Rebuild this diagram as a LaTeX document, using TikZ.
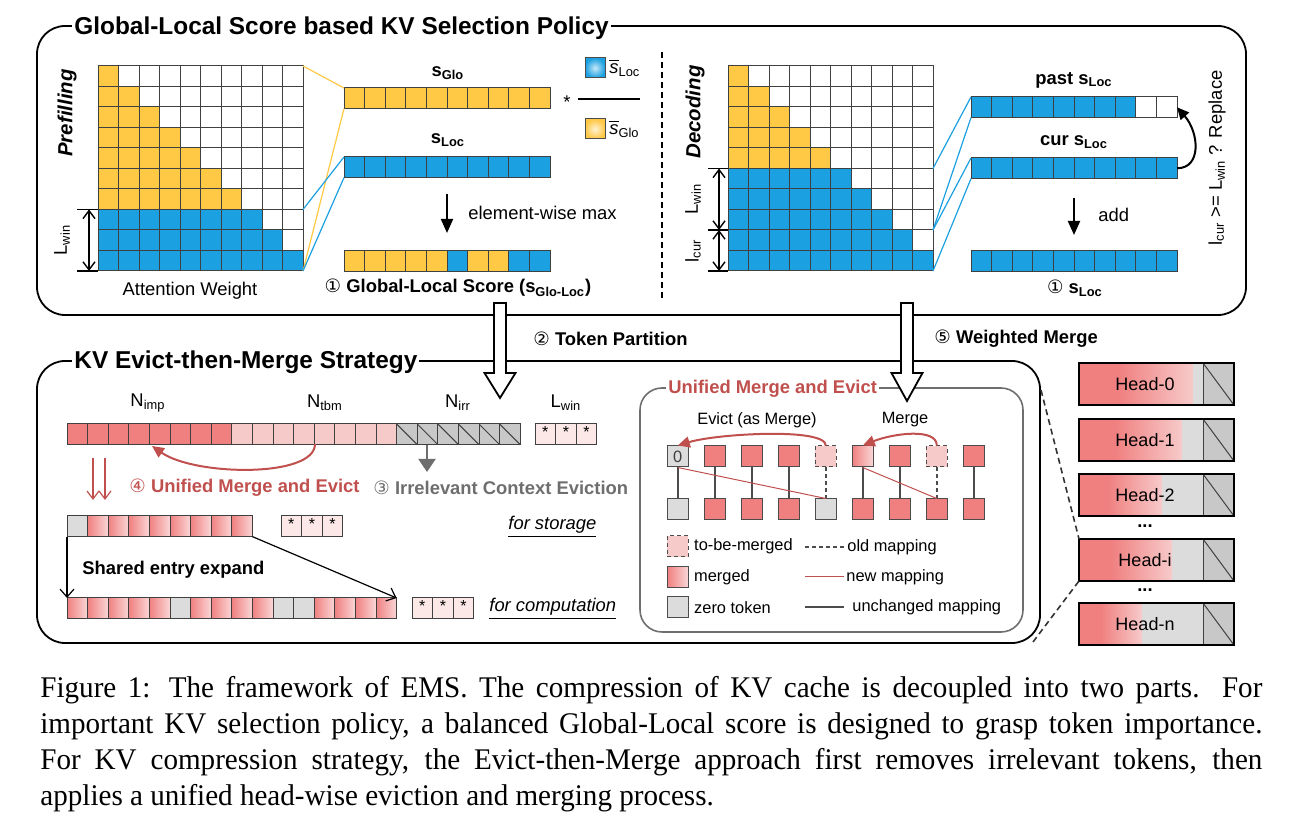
\documentclass[tikz,border=0pt]{standalone}
\usepackage{fontspec}
\setmainfont{Liberation Sans}
\newfontfamily\capfont[FakeStretch=0.97]{Liberation Serif}
\newfontfamily\symfont{DejaVu Sans}
\usepackage{tikz}
\usetikzlibrary{arrows.meta}
\usetikzlibrary{positioning}

\definecolor{yelC}{RGB}{255,200,69}
\definecolor{bluC}{RGB}{27,160,225}
\definecolor{impC}{RGB}{240,128,128}
\definecolor{tbmC}{RGB}{247,202,202}
\definecolor{irrC}{RGB}{200,200,200}
\definecolor{zeroC}{RGB}{220,220,220}
\definecolor{winC}{RGB}{253,232,232}
\definecolor{mrgC}{RGB}{250,214,214}
\definecolor{redT}{RGB}{192,80,77}
\definecolor{grayT}{RGB}{110,110,110}

\newcommand{\cnum}[1]{{\symfont\mdseries #1}}

\tikzset{
  cell/.style={draw=black!75, line width=0.5pt},
  bar/.style={draw=none, inner sep=0pt, outer sep=0pt, anchor=north west},
  mrg/.style={left color=impC, right color=mrgC},
  hatch/.style={fill=irrC, path picture={\draw[black!75, line width=0.5pt] (path picture bounding box.north west) -- (path picture bounding box.south east);}},
  frame/.style={draw=black, line width=0.9pt, rounded corners=14pt},
  inframe/.style={draw=grayT, line width=0.8pt, rounded corners=11pt},
  ttl/.style={font=\fontsize{12.2}{14}\selectfont\bfseries, fill=white, inner xsep=1pt, inner ysep=0pt, anchor=west},
  lbl/.style={font=\fontsize{9.2}{11}\selectfont, inner sep=1pt},
  blbl/.style={font=\fontsize{9.2}{11}\selectfont\bfseries, inner sep=1pt},
  slbl/.style={font=\fontsize{8.2}{10}\selectfont, inner sep=1pt},
  star/.style={font=\fontsize{8}{9}\selectfont, inner sep=0pt},
  yline/.style={yelC, line width=0.6pt},
  bline/.style={bluC, line width=0.6pt},
  tick/.style={line width=0.7pt},
  dimarr/.style={line width=0.7pt, {Straight Barb[length=4pt,width=6pt]}-{Straight Barb[length=4pt,width=6pt]}},
  downarr/.style={line width=1pt, -{Triangle[length=7pt,width=6pt]}},
  hollow/.style={draw, fill=white, line width=0.9pt},
  redarr/.style={redT, line width=1pt, -{Triangle[length=6pt,width=5.5pt]}},
  redthin/.style={redT, line width=0.6pt, -{Straight Barb[length=4pt,width=6pt]}},
  grayarr/.style={grayT, line width=1pt, -{Triangle[length=6.5pt,width=8.5pt]}},
  thinarr/.style={line width=0.6pt, -{Straight Barb[length=4pt,width=7pt]}},
  sq/.style={draw=black!70, line width=0.5pt, minimum size=10.5pt, inner sep=0pt},
  zsq/.style={fill=zeroC},
  rsq/.style={fill=impC},
  psq/.style={fill=tbmC, dash pattern=on 2pt off 1.5pt},
  msq/.style={left color=impC, right color=mrgC},
  keep/.style={black!70, line width=0.8pt},
  old/.style={black!70, line width=0.8pt, dash pattern=on 2pt off 1.5pt},
  new/.style={redT, line width=0.5pt},
  hdash/.style={black!80, line width=0.8pt, dash pattern=on 3pt off 2pt}
}

\begin{document}
\begin{tikzpicture}[x=0.5pt, y=-0.5pt]
\useasboundingbox (0,0) rectangle (1292,833);

% frames
\draw[frame] (37,26) rectangle (1246,315);
\draw[frame] (37,361) rectangle (1040,643);

% ---------- prefilling ----------
\node (pre) [bar, minimum width=102.5pt, minimum height=102.5pt] at (98,66) {};
\foreach \ii in {0,...,9}
  \foreach \jj in {0,...,9} {
    \ifnum\jj>\ii \def\cc{white}\else\ifnum\ii>6 \def\cc{bluC}\else\def\cc{yelC}\fi\fi
    \draw[cell, fill=\cc] (98+\jj*20.5, 66+\ii*20.5) rectangle ++(20.5,20.5);
  }
\node (prelbl) [rotate=90, font=\fontsize{10.2}{12}\selectfont\bfseries\itshape] at (67,113) {Prefilling};
\node (attlbl) [lbl] at (190,291) {Attention Weight};
\coordinate (prewin) at (303,209.5);
\coordinate (pw1) at (89,209.5);
\coordinate (pw2) at (89,271);
\draw[tick] (77,209.5) -- (98,209.5);
\draw[tick] (77,271) -- (98,271);
\draw[dimarr] (pw1) -- (pw2);
\node (pwlbl) [lbl, rotate=90] at (62,240) {L\textsubscript{win}};

% score bars
\node (glo) [bar, minimum width=103pt, minimum height=10.3pt] at (344,88) {};
\foreach \jj in {0,...,9} \draw[cell, fill=yelC] (344+\jj*20.6,88) rectangle ++(20.6,20.6);
\node (loc) [bar, minimum width=103pt, minimum height=10.3pt] at (344,157) {};
\foreach \jj in {0,...,9} \draw[cell, fill=bluC] (344+\jj*20.6,157) rectangle ++(20.6,20.6);
\node (gl) [bar, minimum width=103pt, minimum height=10.3pt] at (344,251) {};
\foreach \cc [count=\jj from 0] in {yelC,yelC,yelC,yelC,yelC,bluC,yelC,yelC,bluC,bluC}
  \draw[cell, fill=\cc] (344+\jj*20.6,251) rectangle ++(20.6,20.6);

\draw[yline] (pre.north east) -- (glo.north west);
\draw[yline] (pre.south east) -- (glo.south west);
\draw[bline] (prewin) -- (loc.north west);
\draw[bline] (pre.south east) -- (loc.south west);

\node (glolbl) [blbl] at (448,73) {s\textsubscript{Glo}};
\node (loclbl) [blbl] at (448,140) {s\textsubscript{Loc}};
\draw[downarr, shorten <=8pt, shorten >=9pt] (loc) -- (gl);
\node (maxlbl) [lbl, anchor=west] at (466,213) {element-wise max};
\node (gllbl) [blbl] at (458,288) {\cnum{①} Global-Local Score (s\textsubscript{Glo-Loc})};

% normalising factor
\node (lgb) [draw=black!70, line width=0.5pt, minimum size=10pt, inner sep=0pt, inner color=bluC!25, outer color=bluC] at (595,68) {};
\node (lgy) [draw=black!70, line width=0.5pt, minimum size=10pt, inner sep=0pt, inner color=yelC!25, outer color=yelC] at (595,129) {};
\node (lgbt) [lbl, anchor=west] at (607,68) {$\overline{\mbox{\itshape s}}$\textsubscript{Loc}};
\node (lgyt) [lbl, anchor=west] at (607,129) {$\overline{\mbox{\itshape s}}$\textsubscript{Glo}};
\node (mul) [lbl] at (567,102) {*};
\draw[line width=1pt] (lgb |- 0,99) ++(-17,0) -- (640,99);

\draw[line width=1pt, dash pattern=on 3pt off 2pt] (662,52) -- (662,300);

% ---------- decoding ----------
\node (dec) [bar, minimum width=102.5pt, minimum height=102.5pt] at (728,66) {};
\foreach \ii in {0,...,9}
  \foreach \jj in {0,...,9} {
    \ifnum\jj>\ii \def\cc{white}\else\ifnum\ii>4 \def\cc{bluC}\else\def\cc{yelC}\fi\fi
    \draw[cell, fill=\cc] (728+\jj*20.5, 66+\ii*20.5) rectangle ++(20.5,20.5);
  }
\node (declbl) [rotate=90, font=\fontsize{10.2}{12}\selectfont\bfseries\itshape] at (695,112) {Decoding};
\coordinate (dw1) at (719,168.5);
\coordinate (dw2) at (719,230);
\coordinate (dw3) at (719,271);
\draw[tick] (708,168.5) -- (728,168.5);
\draw[tick] (708,230) -- (728,230);
\draw[tick] (708,271) -- (728,271);
\draw[dimarr] (dw1) -- (dw2);
\draw[dimarr] (dw2) -- (dw3);
\node (dwlbl) [lbl, rotate=90] at (693,199) {L\textsubscript{win}};
\node (dclbl) [lbl, rotate=90] at (693,251) {l\textsubscript{cur}};
\coordinate (decwin) at (933,168.5);
\coordinate (deccur) at (933,230);

\node (past) [bar, minimum width=103pt, minimum height=10.3pt] at (971,97) {};
\foreach \cc [count=\jj from 0] in {bluC,bluC,bluC,bluC,bluC,bluC,bluC,bluC,white,white}
  \draw[cell, fill=\cc] (971+\jj*20.6,97) rectangle ++(20.6,20.6);
\node (cur) [bar, minimum width=103pt, minimum height=10.3pt] at (971,158) {};
\foreach \jj in {0,...,9} \draw[cell, fill=bluC] (971+\jj*20.6,158) rectangle ++(20.6,20.6);
\node (lres) [bar, minimum width=103pt, minimum height=10.3pt] at (971,251) {};
\foreach \jj in {0,...,9} \draw[cell, fill=bluC] (971+\jj*20.6,251) rectangle ++(20.6,20.6);

\draw[bline] (decwin) -- (past.north west);
\draw[bline] (deccur) -- (past.south west);
\draw[bline] (deccur) -- (cur.north west);
\draw[bline] (dec.south east) -- (cur.south west);

\node (pastlbl) [blbl] at (1074,80) {past s\textsubscript{Loc}};
\node (curlbl) [blbl] at (1074,142) {cur s\textsubscript{Loc}};
\draw[downarr, shorten <=9.5pt, shorten >=8pt] (cur) -- (lres);
\node (addlbl) [lbl, anchor=west] at (1096,215) {add};
\node (lreslbl) [blbl] at (1075,288) {\cnum{①} s\textsubscript{Loc}};
\draw[line width=1pt, -{Triangle[length=6pt,width=5.5pt]}] (cur.east) .. controls +(25,0) and +(22,25) .. (past.east);
\node (cond) [lbl, rotate=90] at (1217,158) {l\textsubscript{cur} >= L\textsubscript{win} ? Replace};

% ---------- evict then merge ----------
\node (tok) [bar, minimum width=226.6pt, minimum height=10.3pt] at (67,424) {};
\foreach \jj in {0,...,7} \draw[cell, fill=impC] (67+\jj*20.6,424) rectangle ++(20.6,20.6);
\foreach \jj in {8,...,15} \draw[cell, fill=tbmC] (67+\jj*20.6,424) rectangle ++(20.6,20.6);
\foreach \jj in {16,...,21} \draw[cell, hatch] (67+\jj*20.6,424) rectangle ++(20.6,20.6);
\node (win) [bar, minimum width=30.9pt, minimum height=10.3pt] at (535,424) {};
\foreach \jj in {0,1,2} {
  \draw[cell, fill=winC] (535+\jj*20.6,424) rectangle ++(20.6,20.6);
  \node (ws\jj) [star] at (545.3+\jj*20.6,432) {*};
}
\node (nimp) [lbl] at (148,403) {N\textsubscript{imp}};
\node (ntbm) [lbl] at (325,403) {N\textsubscript{tbm}};
\node (nirr) [lbl] at (458,403) {N\textsubscript{irr}};
\node (lwin) [lbl] at (566,403) {L\textsubscript{win}};

\coordinate (tbmc) at (315,444);
\coordinate (impc) at (152,446);
\draw[redarr] (tbmc) .. controls (315,478) and (195,476) .. (impc);
\coordinate (irrc) at (427,444.6);
\coordinate (irre) at (427,472);
\draw[grayarr] (irrc) -- (irre);
\coordinate (dd1) at (93,458);
\coordinate (dd2) at (93,500);
\coordinate (dd3) at (105,458);
\coordinate (dd4) at (105,500);
\draw[redthin] (dd1) -- (dd2);
\draw[redthin] (dd3) -- (dd4);
\node (umelbl) [blbl, text=redT, anchor=west] at (127,488) {\cnum{④} Unified Merge and Evict};
\node (icelbl) [blbl, text=grayT, anchor=west] at (371,488) {\cnum{③} Irrelevant Context Eviction};

\node (sto) [bar, minimum width=92.7pt, minimum height=10.3pt] at (67,516) {};
\draw[cell, fill=zeroC] (67,516) rectangle ++(20.6,20.6);
\foreach \jj in {1,...,8} \draw[cell, mrg] (67+\jj*20.6,516) rectangle ++(20.6,20.6);
\foreach \jj in {0,1,2} {
  \draw[cell, fill=winC] (281+\jj*20.6,516) rectangle ++(20.6,20.6);
  \node (ss\jj) [star] at (291.3+\jj*20.6,524) {*};
}
\node (storlbl) [lbl, anchor=west] at (506,527) {\underline{\itshape for storage}};

\node (cmp) [bar, minimum width=164.8pt, minimum height=10.3pt] at (67,598) {};
\foreach \jj in {0,1,2,3,4,6,7,8,9,12,13,14,15} \draw[cell, mrg] (67+\jj*20.6,598) rectangle ++(20.6,20.6);
\foreach \jj in {5,10,11} \draw[cell, fill=zeroC] (67+\jj*20.6,598) rectangle ++(20.6,20.6);
\foreach \jj in {0,1,2} {
  \draw[cell, fill=winC] (412+\jj*20.6,598) rectangle ++(20.6,20.6);
  \node (cs\jj) [star] at (422.3+\jj*20.6,606) {*};
}
\node (complbl) [lbl, anchor=west] at (487,609) {\underline{\itshape for computation}};

\draw[thinarr] (sto.south west) -- (cmp.north west);
\draw[thinarr] (sto.south east) -- (cmp.north east);
\node (sharelbl) [blbl, anchor=west] at (80,570) {Shared entry expand};

% ---------- unified merge and evict ----------
\draw[inframe] (640,388) rectangle (1023,632);
\foreach \i/\st in {0/zsq,1/rsq,2/rsq,3/rsq,4/psq,5/msq,6/rsq,7/psq,8/rsq}
  \node (t\i) [sq,\st] at (677.8+\i*37,456.5) {};
\foreach \i/\st in {0/zsq,1/rsq,2/rsq,3/rsq,4/zsq,5/rsq,6/rsq,7/rsq,8/rsq}
  \node (b\i) [sq,\st] at (677.8+\i*37,509.5) {};
\node (t0z) [slbl, text=black!75] at (t0) {0};
\foreach \i in {0,1,2,3,5,6,8} \draw[keep] (t\i) -- (b\i);
\foreach \i in {4,7} \draw[old] (t\i) -- (b\i);
\draw[new] (t0.south) -- (b4.north);
\draw[new] (t5.south) -- (b7.north);
\draw[redarr] (t4.north) .. controls +(0,-18) and +(40,-12) .. (t0.north);
\draw[redarr] (t7.north) .. controls +(0,-18) and +(30,-12) .. (t5.north);
\node (evlbl) [slbl] at (757,420) {Evict (as Merge)};
\node (mglbl) [slbl] at (905,420) {Merge};

\node (lg1) [sq,psq] at (677.8,546.5) {};
\node (lg2) [sq,msq] at (677.8,577) {};
\node (lg3) [sq,zsq] at (677.8,607.5) {};
\node (lg1t) [slbl, anchor=west, xshift=1.5pt] at (lg1.east) {to-be-merged};
\node (lg2t) [slbl, anchor=west, xshift=1.5pt] at (lg2.east) {merged};
\node (lg3t) [slbl, anchor=west, xshift=1.5pt] at (lg3.east) {zero token};
\coordinate (lo1) at (805,547);
\coordinate (lo2) at (845,547);
\coordinate (ln1) at (805,577);
\coordinate (ln2) at (844,577);
\coordinate (lu1) at (805,607);
\coordinate (lu2) at (844,607);
\draw[old] (lo1) -- (lo2);
\draw[new] (ln1) -- (ln2);
\draw[keep] (lu1) -- (lu2);
\node (lo2t) [slbl, anchor=west] at (lo2) {old mapping};
\node (ln2t) [slbl, anchor=west] at (ln2) {new mapping};
\node (lu2t) [slbl, anchor=west, xshift=3pt] at (lu2) {unchanged mapping};

% ---------- heads ----------
\foreach \nm/\yy/\xp in {0/363/1193,1/419/1182,2/474/1162,i/539/1172,n/603/1142} {
  \pgfmathsetmacro\xm{1079+0.35*(\xp-1079)}
  \fill[impC] (1079,\yy) rectangle (\xm,\yy+42);
  \shade[left color=impC, right color=tbmC] (\xm,\yy) rectangle (\xp,\yy+42);
  \fill[zeroC] (\xp,\yy) rectangle (1203,\yy+42);
  \draw[cell, hatch] (1203,\yy) rectangle (1234,\yy+42);
  \draw[line width=0.9pt] (1079,\yy) rectangle (1234,\yy+42);
  \node (h\nm) [bar, minimum width=77.5pt, minimum height=21pt] at (1079,\yy) {};
  \node (h\nm t) [lbl, font=\fontsize{9}{11}\selectfont] at (1145,\yy+21) {Head-\nm};
}
\node (dots1) [blbl] at (1145,526) {...};
\node (dots2) [blbl] at (1145,590) {...};
\coordinate (emr1) at (1041,390);
\coordinate (emr2) at (1033,642);
\draw[hdash] (emr1) -- (hi.north west);
\draw[hdash] (emr2) -- (hi.south west);

% ---------- hollow arrows ----------
\coordinate (tpA) at (500,303);
\coordinate (tpB) at (500,398);
\draw[hollow] (tpA) -- ++(6,0) -- ++(0,70) -- ++(9.5,0) -- (tpB) -- ++(-15.5,-25) -- ++(9.5,0) -- ++(0,-70) -- cycle;
\coordinate (wmA) at (907,303);
\coordinate (wmB) at (907,401);
\draw[hollow] (wmA) -- ++(6,0) -- ++(0,70) -- ++(9.5,0) -- (wmB) -- ++(-15.5,-28) -- ++(9.5,0) -- ++(0,-70) -- cycle;
\node (tplbl) [blbl, anchor=west] at (531,339) {\cnum{②} Token Partition};
\node (wmlbl) [blbl, anchor=west] at (932,339) {\cnum{⑤} Weighted Merge};

% titles
\node (gtitle) [ttl] at (72,28) {Global-Local Score based KV Selection Policy};
\node (etitle) [ttl] at (72,362) {KV Evict-then-Merge Strategy};
\node (utitle) [ttl, font=\fontsize{9.2}{11}\selectfont\bfseries, text=redT] at (666,389) {Unified Merge and Evict};

% caption
\node (cap) [anchor=north west, text width=611pt, align=justify, inner sep=0pt, font=\capfont\fontsize{15}{18}\selectfont] at (40,676)
  {\hyphenpenalty=10000 \exhyphenpenalty=10000 \hyphenchar\font=-1 Figure 1: The framework of EMS. The compression of KV cache is decoupled into two parts. For\linebreak important KV selection policy, a balanced Global-Local score is designed to grasp token importance.\linebreak For KV compression strategy, the Evict-then-Merge approach first removes irrelevant tokens, then\linebreak applies a unified head-wise eviction and merging process.\par};
\end{tikzpicture}
\end{document}
